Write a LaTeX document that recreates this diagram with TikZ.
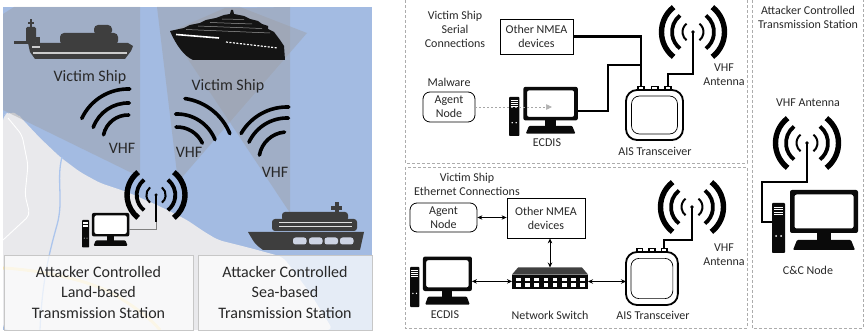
\documentclass[tikz,border=0pt]{standalone}
\usepackage{fontspec}
\setmainfont{Carlito}
\usetikzlibrary{arrows.meta}

\definecolor{sea}{RGB}{163,187,226}
\definecolor{landc}{RGB}{233,233,236}
\definecolor{beamc}{RGB}{158,160,166}
\definecolor{shipc}{RGB}{62,62,62}
\definecolor{iconc}{RGB}{10,10,10}
\definecolor{txt}{RGB}{40,40,40}
\definecolor{dashc}{RGB}{172,172,172}
\definecolor{riverc}{RGB}{172,197,236}
\definecolor{roadc}{RGB}{242,224,172}
\definecolor{portc}{RGB}{205,212,228}

\tikzset{
  lbl/.style={text=txt, inner sep=0pt, align=center, font=\fontsize{12}{14}\selectfont},
  biglbl/.style={text=txt, inner sep=0pt, align=center, font=\fontsize{16}{20.7}\selectfont},
  devbox/.style={lbl, draw=black, line width=0.8pt, fill=white},
  agentbox/.style={devbox, rounded corners=7pt},
  groupbox/.style={draw=dashc, line width=0.7pt, dash pattern=on 3pt off 2pt},
  serial/.style={line width=2.4pt, black},
  mast/.style={line width=2pt, black},
  biarrow/.style={line width=0.7pt, {Stealth[length=5pt,width=4.5pt]}-{Stealth[length=5pt,width=4.5pt]}},
  malflow/.style={draw=black!35, line width=0.7pt, dash pattern=on 2pt off 2pt,
    -{Triangle[length=6pt,width=5.5pt,color=black!30]}},
  wave/.style={line width=3.6pt, black, line cap=round},
  stationbox/.style={biglbl, draw=black!22, line width=0.8pt, fill=white, fill opacity=0.72, text opacity=1},
  beam/.style={fill=beamc, fill opacity=0.45},
  % desktop computer: tower + monitor + keyboard base, origin at top-left of the tower
  computer/.pic={
    \fill[iconc, rounded corners=0.8pt] (0,0) rectangle (13,-50);
    \foreach \v in {-4,-6.5,-9,-11.5} \draw[white, line width=0.45pt] (2,\v) -- (11,\v);
    \fill[white] (4,-33) circle (1) (9,-33) circle (1);
    \fill[white] (22.5,8.5) rectangle (81.5,-25.5);
    \fill[iconc, even odd rule, rounded corners=2pt] (18,13) rectangle (86,-30) (22.5,8.5) rectangle (81.5,-25.5);
    \fill[iconc] (45,-30) rectangle (59,-37.5);
    \fill[iconc, rounded corners=1pt] (25,-37) -- (79,-37) -- (83,-47) -- (21,-47) -- cycle;
    \coordinate (-r) at (86,-18);
    \coordinate (-tl) at (0,-19);
  },
  % AIS transceiver housing with three connectors on top
  transceiver/.pic={
    \draw[line width=1.8pt, rounded corners=11pt, fill=white] (0,0) rectangle (57,-50);
    \draw[line width=0.7pt, rounded corners=8pt] (5.5,-6) rectangle (51.5,-44);
    \foreach \a in {11,24.5,38}{
      \fill (\a,0) rectangle (\a+8,4);
      \fill[white] (\a+1.8,1) rectangle (\a+6.2,2.8);
    }
    \coordinate (-p1) at (15,4);
    \coordinate (-p3) at (42,4);
    \coordinate (-w) at (0,-25);
  },
  % radio mast symbol with radiating arcs
  antenna/.pic={
    \coordinate (-c) at (0,0);
    \fill (0,0) circle (1.9);
    \foreach \r/\w in {10.5/2pt,21/3.8pt,31.5/5.4pt}{
      \draw[line width=\w] (52:\r) arc[start angle=52,end angle=-52,radius=\r];
      \draw[line width=\w] (128:\r) arc[start angle=128,end angle=232,radius=\r];
    }
  },
  % rack switch with two rows of ports
  netswitch/.pic={
    \fill[black!75] (6,0) -- (70,0) -- (76,-7) -- (0,-7) -- cycle;
    \fill[iconc] (0,-7.5) rectangle (76,-21);
    \foreach \i in {0,...,7}{
      \fill[white] (4+\i*9.2,-10) rectangle ++(4.5,-3.5);
      \fill[white] (4+\i*9.2,-15.5) rectangle ++(4.5,-3.5);
    }
    \coordinate (-n) at (38,0);
    \coordinate (-w) at (0,-14);
    \coordinate (-e) at (76,-14);
  },
}

\newcommand\vhfarc[4]{\draw[wave] (#1) ++(#3:#2) arc[start angle=#3,end angle=#4,radius=#2];}

\begin{document}
\begin{tikzpicture}[x=1pt,y=1pt]
\useasboundingbox (0,0) rectangle (865,-331);

% ---------------- coastal map ----------------
\begin{scope}
  \clip (3,-7) rectangle (372,-330);
  \fill[sea] (3,-7) rectangle (372,-330);
  \fill[landc, rounded corners=6pt] (3,-115) -- (10,-112) -- (18,-114) -- (23,-120) -- (40,-138)
    -- (60,-157) -- (80,-172) -- (100,-183) -- (127,-192) -- (157,-205) -- (187,-220)
    -- (203,-231) -- (218,-240) -- (250,-248) -- (283,-257) -- (310,-293) -- (333,-330)
    -- (3,-330) -- cycle;
  \draw[white, line width=0.9pt, rounded corners=5pt] (8,-118) -- (22,-135) -- (28,-165)
    -- (25,-195) -- (30,-215) -- (3,-240);
  \draw[riverc, line width=1.3pt] (62,-157) .. controls (56,-180) and (64,-200) .. (57,-225)
    .. controls (50,-250) and (42,-280) .. (40,-330);
  \draw[roadc, line width=3pt] (3,-268) .. controls (40,-270) and (90,-280) .. (115,-295)
    .. controls (135,-307) and (150,-318) .. (160,-330);
  % radio coverage wedges
  \fill[beam] (14,-7) -- (140,-7) -- (140,-177) -- (3,-110) -- (3,-14) -- cycle;
  \fill[beam] (178,-182) -- (157,-7) -- (240,-7) -- (307,-33) -- cycle;
  \fill[beam] (290,-213) -- (290,-7) -- (225,-8) -- (170,-32) -- cycle;
\end{scope}

% tanker
\fill[shipc] (28,-43) -- (128,-43) -- (133,-46) -- (131,-51) -- (125,-59) -- (35,-59) -- (30,-52) -- cycle;
\fill[shipc, rounded corners=4pt] (60,-45) rectangle (118,-33);
\fill[shipc, rounded corners=4pt] (94,-35) rectangle (112,-25);
\fill[shipc, rounded corners=1.5pt] (26,-44) rectangle (36,-27);
\fill[shipc] (14,-41) rectangle (30,-44);
\draw[shipc, line width=1.5pt] (31,-27) -- (31,-19);
\draw[shipc, line width=1.2pt] (28,-23) -- (34,-23);
\fill[shipc] (36,-37) rectangle (40,-44);
\draw[black!20, line width=1.2pt] (33,-53) -- (127,-53);
\fill[black!20] (32,-46) rectangle (40,-48.5);

% cruise liner
\fill[black!92] (170,-31) -- (184,-28) -- (190,-25) -- (200,-23) -- (206,-20) -- (216,-18)
  -- (224,-15) -- (230,-14) -- (231,-10) -- (233,-10) -- (234,-14) -- (244,-16) -- (250,-19)
  -- (258,-21) -- (262,-24) -- (268,-26) -- (268,-29) -- (274,-32) -- (280,-40) -- (284,-46)
  -- (285,-60) -- (193,-60) .. controls (184,-56) and (176,-45) .. cycle;
\draw[black!40, line width=0.5pt] (186,-29.5) -- (270,-33) (198,-26) -- (262,-28.5)
  (210,-22.5) -- (252,-24) (222,-19) -- (244,-19.5);
\draw[white, line width=1.6pt] (176,-34.5) -- (219,-38);
\draw[white, line width=1.2pt, dash pattern=on 2pt off 1.5pt] (226,-42) -- (278,-48);

% patrol ship
\fill[shipc] (248,-232) -- (364,-232) -- (360,-250) -- (263,-250) .. controls (255,-244) .. cycle;
\foreach \a in {293,309,324.5,340} \fill[portc, rounded corners=2.5pt] (\a,-237.5) rectangle (\a+13.5,-244.5);
\fill[shipc, rounded corners=3pt] (272,-231) rectangle (357,-219);
\fill[shipc, rounded corners=3pt] (282,-221) rectangle (348,-212);
\draw[black!12, line width=1pt] (279,-222.5) -- (352,-222.5) (279,-226.5) -- (352,-226.5);
\fill[shipc] (334.5,-213) rectangle (338.5,-202);
\fill[shipc] (331,-206) rectangle (342,-210);

% VHF wave fronts
\vhfarc{128,-140}{51}{88}{155}
\vhfarc{128,-140}{37}{88}{160}
\vhfarc{128,-140}{25}{88}{168}
\vhfarc{177,-155}{57}{22}{82}
\vhfarc{177,-155}{41}{22}{92}
\vhfarc{177,-155}{28}{25}{92}
\vhfarc{287,-160}{53}{88}{150}
\vhfarc{287,-160}{42}{88}{155}
\vhfarc{287,-160}{28}{95}{170}

% land-based station
\pic[scale=0.92] (antL) at (156,-195) {antenna};
\pic[scale=0.55] (landpc) at (82,-220) {computer};
\coordinate (landfoot) at (156,-222);
\draw[mast] (antL-c) -- (landfoot);
\draw[black!50, line width=0.8pt] (landfoot) |- (landpc-r);

\node[biglbl] (vsA) at (90,-77) {Victim Ship};
\node[biglbl] (vsB) at (228,-86) {Victim Ship};
\node[biglbl] (vhfA) at (122,-148) {VHF};
\node[biglbl] (vhfB) at (189,-152) {VHF};
\node[biglbl] (vhfC) at (275,-172) {VHF};

\node[stationbox, minimum width=189pt, minimum height=75pt] (landst) at (98.5,-292.5)
  {Attacker Controlled\\Land-based\\Transmission Station};
\node[stationbox, minimum width=174pt, minimum height=75pt] (seast) at (285,-292.5)
  {Attacker Controlled\\Sea-based\\Transmission Station};

% ---------------- group frames ----------------
\draw[groupbox] (405,5) rectangle (747,-163);
\draw[groupbox] (405,-167) rectangle (747,-328);
\draw[groupbox] (752,5) rectangle (863,-328);

% ---------------- serial connections ----------------
\node[lbl] (vs1) at (455,-29) {Victim Ship\\Serial\\Connections};
\node[devbox, minimum width=73pt, minimum height=35pt] (nmea1) at (536.5,-36.5) {Other NMEA\\devices};
\node[lbl] (mal) at (449,-82) {Malware};
\node[agentbox, minimum width=52pt, minimum height=30pt] (agent1) at (449,-107) {Agent\\Node};
\pic[xscale=0.8, yscale=0.78] (ecdisA) at (509,-97) {computer};
\node[lbl] (ecdisAl) at (547,-143) {ECDIS};
\pic (ais1) at (626,-90) {transceiver};
\node[lbl] (ais1l) at (655,-151) {AIS Transceiver};
\pic (ant1) at (693,-32) {antenna};
\node[lbl] (vhf1) at (724,-75) {VHF\\Antenna};

\coordinate (serjog) at (608,-65);
\coordinate (malhit) at (552,-107);
\draw[serial] (nmea1.east) -| (ais1-p1);
\draw[serial] (ecdisA-r) -| (serjog) -| (ais1-p1);
\draw[mast] (ant1-c) -- ++(0,-42) -| (ais1-p3);
\draw[malflow] (agent1.east) -- (malhit);

% ---------------- ethernet connections ----------------
\node[lbl] (vs2) at (467,-184.5) {Victim Ship\\Ethernet Connections};
\node[agentbox, minimum width=67pt, minimum height=29pt] (agent2) at (443.5,-217.5) {Agent\\Node};
\node[devbox, minimum width=78pt, minimum height=40pt] (nmea2) at (546,-218) {Other NMEA\\devices};
\pic[xscale=0.72, yscale=0.8] (ecdisB) at (410,-267) {computer};
\node[lbl] (ecdisBl) at (445,-315) {ECDIS};
\pic (sw) at (512,-267.5) {netswitch};
\node[lbl] (swl) at (550,-315) {Network Switch};
\pic[xscale=0.91, yscale=1.06] (ais2) at (626,-252) {transceiver};
\node[lbl] (ais2l) at (653,-315) {AIS Transceiver};
\pic (ant2) at (692,-207) {antenna};
\node[lbl] (vhf2) at (724,-255) {VHF\\Antenna};

\draw[biarrow] (agent2.east) -- (agent2.east -| nmea2.west);
\draw[biarrow] (sw-n |- nmea2.south) -- (sw-n);
\draw[biarrow] (ecdisB-r) -- (ecdisB-r -| sw-w);
\draw[biarrow] (sw-e) -- (sw-e -| ais2-w);
\draw[mast] (ant2-c) -- ++(0,-33) -| (ais2-p3);

% ---------------- attacker station ----------------
\node[lbl] (atk) at (808,-17) {Attacker Controlled\\Transmission Station};
\node[lbl] (vhf3) at (808,-103) {VHF Antenna};
\pic (ant3) at (807,-143) {antenna};
\pic (cc) at (772,-203) {computer};
\node[lbl] (ccl) at (808,-270) {C\&C Node};
\coordinate (ccjog) at (762,-182);
\draw[mast] (ant3-c) |- (ccjog) |- (cc-tl);

\end{tikzpicture}
\end{document}
